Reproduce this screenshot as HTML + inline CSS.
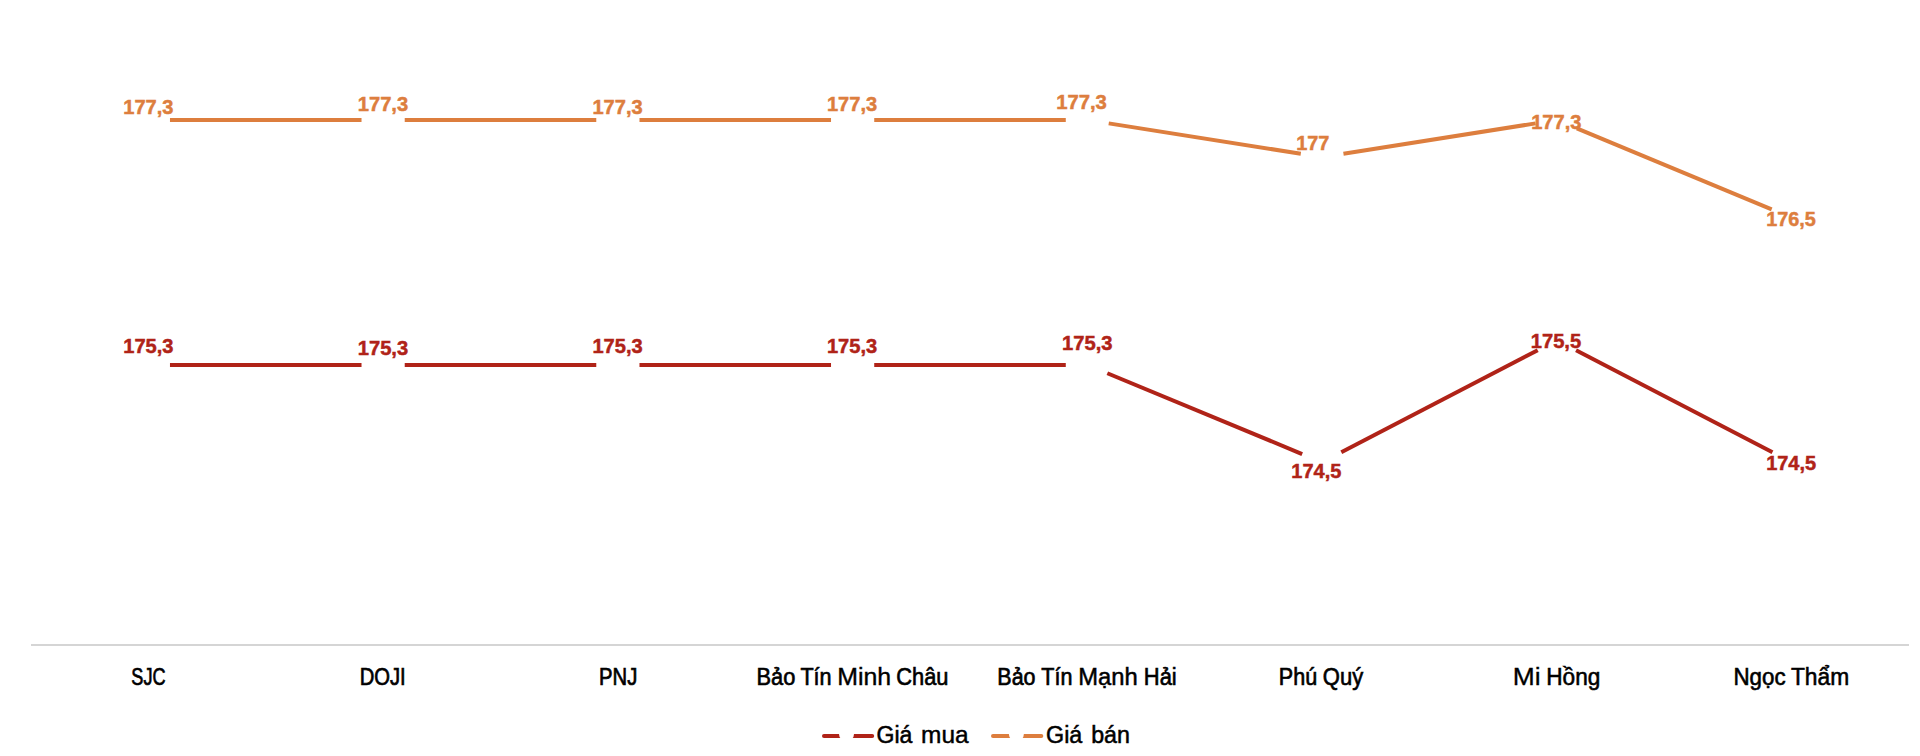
<!DOCTYPE html>
<html lang="vi"><head><meta charset="utf-8"><title>Giá vàng</title>
<style>
html,body{margin:0;padding:0;background:#fff;}
body{width:1920px;height:756px;overflow:hidden;}
svg{display:block;}
text{font-family:"Liberation Sans",sans-serif;}
.d{font-weight:bold;font-size:20.3px;stroke-width:0.5;}
.c{font-size:23.5px;fill:#000;stroke:#000;}
</style></head><body>
<svg width="1920" height="756" viewBox="0 0 1920 756">
<rect x="31" y="644" width="1878" height="2" fill="#D5D5D5"/>
<line x1="169.97" y1="365.00" x2="361.52" y2="365.00" stroke="#B02318" stroke-width="4"/>
<line x1="404.73" y1="365.00" x2="596.27" y2="365.00" stroke="#B02318" stroke-width="4"/>
<line x1="639.48" y1="365.00" x2="831.02" y2="365.00" stroke="#B02318" stroke-width="4"/>
<line x1="874.23" y1="365.00" x2="1065.78" y2="365.00" stroke="#B02318" stroke-width="4"/>
<line x1="1107.33" y1="373.27" x2="1302.17" y2="454.03" stroke="#B02318" stroke-width="4"/>
<line x1="1341.29" y1="452.33" x2="1537.71" y2="350.17" stroke="#B02318" stroke-width="4"/>
<line x1="1576.04" y1="350.16" x2="1772.46" y2="452.24" stroke="#B02318" stroke-width="4"/>
<line x1="169.97" y1="120.00" x2="361.52" y2="120.00" stroke="#DD7E3E" stroke-width="4"/>
<line x1="404.73" y1="120.00" x2="596.27" y2="120.00" stroke="#DD7E3E" stroke-width="4"/>
<line x1="639.48" y1="120.00" x2="831.02" y2="120.00" stroke="#DD7E3E" stroke-width="4"/>
<line x1="874.23" y1="120.00" x2="1065.78" y2="120.00" stroke="#DD7E3E" stroke-width="4"/>
<line x1="1108.71" y1="123.37" x2="1300.79" y2="153.73" stroke="#DD7E3E" stroke-width="4"/>
<line x1="1343.46" y1="153.73" x2="1535.54" y2="123.37" stroke="#DD7E3E" stroke-width="4"/>
<line x1="1576.82" y1="128.30" x2="1771.68" y2="209.40" stroke="#DD7E3E" stroke-width="4"/>
<text class="d" x="123.25" y="113.8" fill="#DD7E3E" stroke="#DD7E3E" textLength="50.23" lengthAdjust="spacingAndGlyphs">177,3</text>
<text class="d" x="357.74" y="110.8" fill="#DD7E3E" stroke="#DD7E3E" textLength="50.44" lengthAdjust="spacingAndGlyphs">177,3</text>
<text class="d" x="592.45" y="113.8" fill="#DD7E3E" stroke="#DD7E3E" textLength="50.23" lengthAdjust="spacingAndGlyphs">177,3</text>
<text class="d" x="826.95" y="110.8" fill="#DD7E3E" stroke="#DD7E3E" textLength="50.23" lengthAdjust="spacingAndGlyphs">177,3</text>
<text class="d" x="1056.13" y="109.2" fill="#DD7E3E" stroke="#DD7E3E" textLength="50.75" lengthAdjust="spacingAndGlyphs">177,3</text>
<text class="d" x="1296.16" y="149.7" fill="#DD7E3E" stroke="#DD7E3E" textLength="33.21" lengthAdjust="spacingAndGlyphs">177</text>
<text class="d" x="1531.14" y="128.7" fill="#DD7E3E" stroke="#DD7E3E" textLength="50.33" lengthAdjust="spacingAndGlyphs">177,3</text>
<text class="d" x="1766.16" y="225.8" fill="#DD7E3E" stroke="#DD7E3E" textLength="49.61" lengthAdjust="spacingAndGlyphs">176,5</text>
<text class="d" x="123.25" y="353.3" fill="#B02318" stroke="#B02318" textLength="50.23" lengthAdjust="spacingAndGlyphs">175,3</text>
<text class="d" x="357.74" y="355.0" fill="#B02318" stroke="#B02318" textLength="50.44" lengthAdjust="spacingAndGlyphs">175,3</text>
<text class="d" x="592.45" y="353.0" fill="#B02318" stroke="#B02318" textLength="50.23" lengthAdjust="spacingAndGlyphs">175,3</text>
<text class="d" x="826.95" y="353.0" fill="#B02318" stroke="#B02318" textLength="50.23" lengthAdjust="spacingAndGlyphs">175,3</text>
<text class="d" x="1062.04" y="350.2" fill="#B02318" stroke="#B02318" textLength="50.54" lengthAdjust="spacingAndGlyphs">175,3</text>
<text class="d" x="1291.35" y="477.9" fill="#B02318" stroke="#B02318" textLength="50.02" lengthAdjust="spacingAndGlyphs">174,5</text>
<text class="d" x="1530.74" y="347.5" fill="#B02318" stroke="#B02318" textLength="50.44" lengthAdjust="spacingAndGlyphs">175,5</text>
<text class="d" x="1766.15" y="469.7" fill="#B02318" stroke="#B02318" textLength="50.02" lengthAdjust="spacingAndGlyphs">174,5</text>
<text class="c" y="684.9"><tspan stroke-width="0.70" x="131.33" textLength="34.21" lengthAdjust="spacingAndGlyphs">SJC</tspan></text>
<text class="c" y="684.9"><tspan stroke-width="0.70" x="359.73" textLength="45.99" lengthAdjust="spacingAndGlyphs">DOJI</tspan></text>
<text class="c" y="684.9"><tspan stroke-width="0.70" x="599.03" textLength="38.24" lengthAdjust="spacingAndGlyphs">PNJ</tspan></text>
<text class="c" y="684.9"><tspan stroke-width="0.64" x="756.48" textLength="38.79" lengthAdjust="spacingAndGlyphs">Bảo</tspan> <tspan stroke-width="0.66" x="800.40" textLength="31.18" lengthAdjust="spacingAndGlyphs">Tín</tspan> <tspan stroke-width="0.38" x="837.30" textLength="53.90" lengthAdjust="spacingAndGlyphs">Minh</tspan> <tspan stroke-width="0.64" x="896.33" textLength="52.19" lengthAdjust="spacingAndGlyphs">Châu</tspan></text>
<text class="c" y="684.9"><tspan stroke-width="0.67" x="997.37" textLength="38.17" lengthAdjust="spacingAndGlyphs">Bảo</tspan> <tspan stroke-width="0.67" x="1041.30" textLength="31.07" lengthAdjust="spacingAndGlyphs">Tín</tspan> <tspan stroke-width="0.48" x="1078.24" textLength="59.46" lengthAdjust="spacingAndGlyphs">Mạnh</tspan> <tspan stroke-width="0.64" x="1143.86" textLength="32.88" lengthAdjust="spacingAndGlyphs">Hải</tspan></text>
<text class="c" y="684.9"><tspan stroke-width="0.67" x="1278.86" textLength="38.26" lengthAdjust="spacingAndGlyphs">Phú</tspan> <tspan stroke-width="0.63" x="1322.83" textLength="40.35" lengthAdjust="spacingAndGlyphs">Quý</tspan></text>
<text class="c" y="684.9"><tspan stroke-width="0.30" x="1512.74" textLength="27.85" lengthAdjust="spacingAndGlyphs">Mi</tspan> <tspan stroke-width="0.57" x="1546.28" textLength="54.11" lengthAdjust="spacingAndGlyphs">Hồng</tspan></text>
<text class="c" y="684.9"><tspan stroke-width="0.60" x="1733.47" textLength="52.08" lengthAdjust="spacingAndGlyphs">Ngọc</tspan> <tspan stroke-width="0.56" x="1790.93" textLength="58.23" lengthAdjust="spacingAndGlyphs">Thẩm</tspan></text>
<text class="c" y="742.6"><tspan stroke-width="0.54" x="876.62" textLength="35.82" lengthAdjust="spacingAndGlyphs">Giá</tspan> <tspan stroke-width="0.42" x="921.14" textLength="47.55" lengthAdjust="spacingAndGlyphs">mua</tspan></text>
<text class="c" y="742.6"><tspan stroke-width="0.52" x="1046.09" textLength="36.26" lengthAdjust="spacingAndGlyphs">Giá</tspan> <tspan stroke-width="0.52" x="1091.17" textLength="38.78" lengthAdjust="spacingAndGlyphs">bán</tspan></text>
<line x1="824.0" y1="736" x2="872.2" y2="736" stroke="#B02318" stroke-width="4" stroke-linecap="round"/>
<circle cx="846.5" cy="734" r="7.5" fill="#fff"/>
<line x1="993.0" y1="736" x2="1041.3" y2="736" stroke="#DD7E3E" stroke-width="4" stroke-linecap="round"/>
<circle cx="1016.4" cy="734" r="7.5" fill="#fff"/>
</svg>
</body></html>
